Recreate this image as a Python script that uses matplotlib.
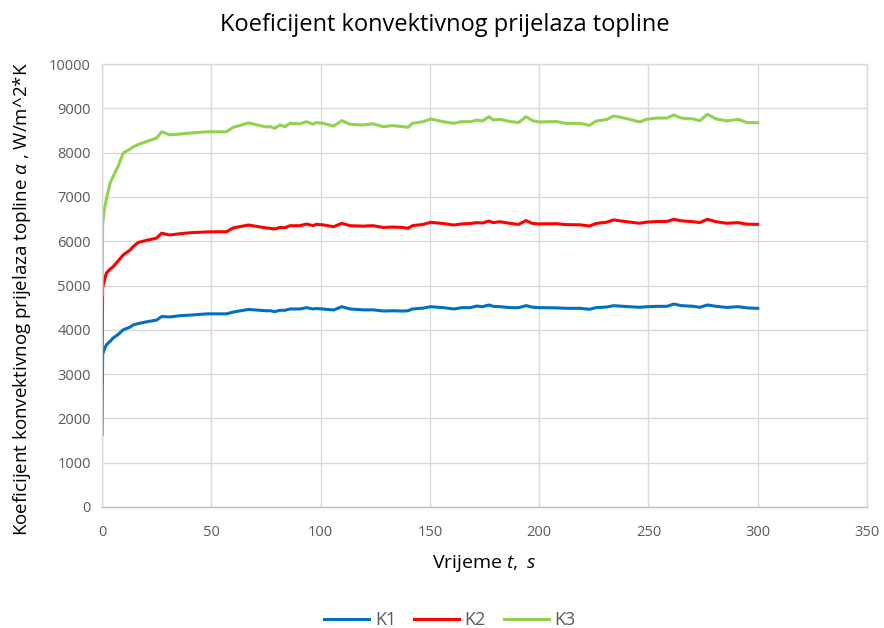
import numpy as np
import matplotlib
matplotlib.use("Agg")
from matplotlib import pyplot as plt

# vrijeme [s] i koeficijenti [W/m^2*K] ocitani s grafa
t = [0, 0.3, 1, 2, 3.7, 5, 7.5, 9.7, 12.8, 14.3, 16.5, 20.4, 25, 27.3, 31, 36, 40, 48, 57, 60,
     67, 75, 77, 79, 81.4, 83.7, 86, 90.5, 93.6, 96.6, 98, 101, 106, 109.7, 113.5, 119.6, 124,
     128.7, 133, 137.7, 140, 142, 147, 150.4, 156, 161, 164.6, 168.5, 171.5, 174, 177, 179,
     182, 187, 190.6, 194, 197, 200, 208, 212, 218.7, 223, 226, 231, 234, 237, 241.6, 246,
     249, 254, 258.5, 261.6, 265, 270.5, 273.5, 277, 281, 285.8, 291, 295, 300]
k1 = [1630, 3450, 3550, 3660, 3740, 3810, 3900, 4000, 4060, 4110, 4140, 4180, 4220, 4300, 4290,
      4320, 4330, 4360, 4360, 4400, 4460, 4430, 4431, 4410, 4440, 4440, 4470, 4470, 4500, 4470,
      4480, 4470, 4447, 4522, 4470, 4450, 4450, 4424, 4430, 4424, 4430, 4470, 4490, 4522, 4500,
      4470, 4500, 4500, 4537, 4520, 4560, 4530, 4522, 4500, 4500, 4545, 4510, 4500, 4495, 4485,
      4485, 4463, 4500, 4515, 4545, 4535, 4520, 4508, 4520, 4530, 4530, 4582, 4545, 4530, 4508,
      4560, 4530, 4505, 4522, 4495, 4485]
k2 = [2830, 4950, 5100, 5280, 5370, 5420, 5560, 5690, 5800, 5880, 5970, 6020, 6070, 6180, 6140,
      6170, 6190, 6210, 6215, 6300, 6365, 6300, 6290, 6275, 6310, 6305, 6350, 6350, 6388, 6350,
      6380, 6370, 6327, 6403, 6350, 6340, 6350, 6310, 6320, 6310, 6290, 6350, 6380, 6427, 6400,
      6365, 6390, 6400, 6420, 6410, 6455, 6420, 6440, 6400, 6380, 6465, 6400, 6390, 6395, 6375,
      6370, 6343, 6400, 6430, 6480, 6460, 6430, 6405, 6430, 6445, 6445, 6495, 6460, 6440, 6420,
      6495, 6440, 6405, 6420, 6385, 6380]
k3 = [4790, 6400, 6700, 6950, 7310, 7450, 7700, 7990, 8080, 8130, 8180, 8250, 8330, 8470, 8400,
      8420, 8440, 8470, 8470, 8570, 8670, 8580, 8585, 8548, 8623, 8585, 8661, 8650, 8698, 8640,
      8680, 8661, 8600, 8720, 8640, 8623, 8650, 8585, 8610, 8585, 8570, 8661, 8698, 8758, 8698,
      8661, 8698, 8698, 8736, 8713, 8810, 8736, 8750, 8698, 8680, 8810, 8720, 8690, 8700, 8660,
      8660, 8615, 8710, 8750, 8825, 8800, 8750, 8690, 8750, 8780, 8780, 8850, 8780, 8760, 8720,
      8865, 8760, 8715, 8750, 8680, 8675]

plt.rcParams["font.family"] = ["Open Sans", "DejaVu Sans"]
plt.rcParams["mathtext.fontset"] = "custom"
plt.rcParams["mathtext.rm"] = "Open Sans"
plt.rcParams["mathtext.it"] = "Open Sans:italic"

fig = plt.figure(figsize=(8.84, 6.28), dpi=100)
ax = fig.add_axes([102 / 884, 1 - 507 / 628, (867 - 102) / 884, (507 - 64) / 628])

ax.plot(t, k1, color="#0070C0", lw=2.2, label="K1")
ax.plot(t, k2, color="#FF0000", lw=2.2, label="K2")
ax.plot(t, k3, color="#92D050", lw=2.2, label="K3")

ax.set_xlim(0, 350)
ax.set_ylim(0, 10000)
ax.set_xticks(np.arange(0, 351, 50))
ax.set_yticks(np.arange(0, 10001, 1000))
ax.grid(True, color="#D9D9D9", lw=1)
ax.set_axisbelow(True)
for s in ax.spines.values():
    s.set_color("#D9D9D9")
    s.set_linewidth(1)
ax.spines["bottom"].set_color("#BFBFBF")
ax.tick_params(length=0, labelsize=10.5, labelcolor="#595959")
ax.tick_params(axis="x", pad=13)
ax.tick_params(axis="y", pad=8)

ax.set_xlabel(r"Vrijeme $t,\ s$", fontsize=14, labelpad=9)
ax.set_ylabel(r"Koeficijent konvektivnog prijelaza topline $\alpha$ , W/m^2*K", fontsize=13.5)
ax.yaxis.set_label_coords(-0.09, 0.47)
fig.suptitle("Koeficijent konvektivnog prijelaza topline", fontsize=17, x=0.503, y=0.98)

ax.legend(loc="center", bbox_to_anchor=(0.455, -0.255), ncol=3, frameon=False,
          fontsize=13, handlelength=2.5, columnspacing=1.0, handletextpad=0.3,
          labelcolor="#595959")

plt.savefig("out.png", dpi=100)
